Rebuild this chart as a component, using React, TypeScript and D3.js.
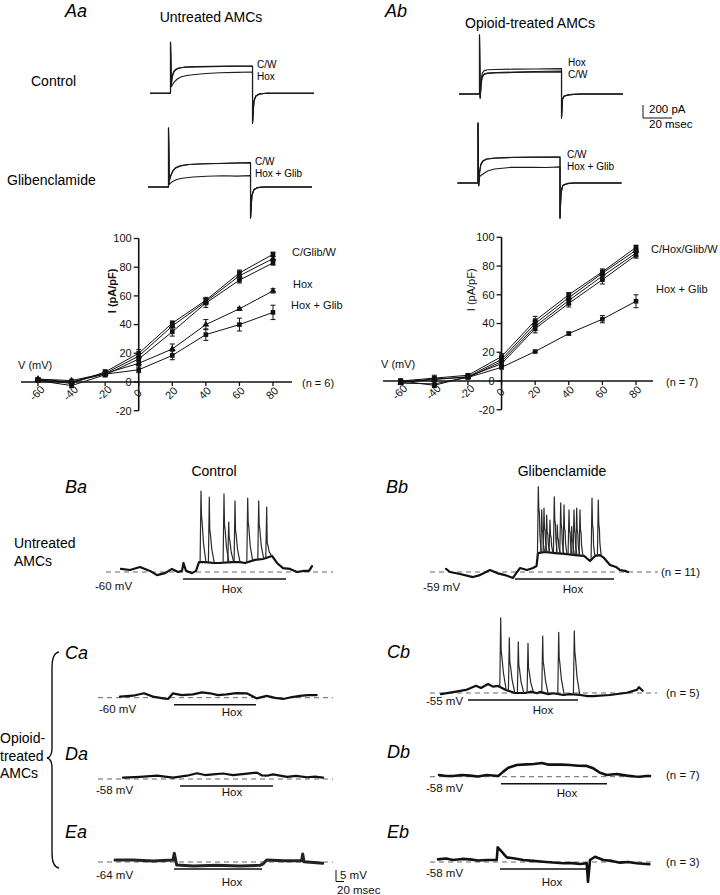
import React from "react";
import * as d3 from "d3";

const FONT = "'Liberation Sans', Arial, Helvetica, sans-serif";

// ---------------- A: I-V relations (I in pA/pF vs V in mV) ----------------
const ivVoltage = [-60, -40, -20, 0, 20, 40, 60, 80];
const ivTicksY = [-20, 0, 20, 40, 60, 80, 100];

// untreated AMCs (n = 6)
const untreatedC = [1.5, -1, 7, 20, 41, 57, 76, 89];
const untreatedCErr = [1, 1.5, 1.5, 2.5, 1.5, 2, 2, 1.5];
const untreatedGlib = [2, 0, 6, 18, 39, 56, 74, 86];
const untreatedGlibErr = [1, 1, 1.5, 2, 2, 2, 2.5, 1.5];
const untreatedW = [1, -2.5, 5, 16, 35, 55, 71, 83];
const untreatedWErr = [1, 1.5, 1.5, 2, 3, 3, 2, 1.5];
const untreatedHox = [2, 1, 6, 13, 23, 40, 51, 63.5];
const untreatedHoxErr = [1, 1, 1, 1.5, 3.5, 3.5, 1, 1.5];
const untreatedHoxGlib = [1, 0, 5.5, 8.5, 18.5, 33, 40, 48.5];
const untreatedHoxGlibErr = [1, 1, 1, 2, 3, 4, 4.5, 5];

// opioid-treated AMCs (n = 7)
const opioidC = [0, 2, 4, 17, 42, 60, 76, 93];
const opioidCErr = [1.5, 2, 1, 2, 3, 1.5, 2, 1.5];
const opioidHox = [-1, 1, 3, 15, 40, 58, 75, 91];
const opioidHoxErr = [1, 1.5, 1, 2, 2, 2, 2, 1.5];
const opioidGlib = [-1.5, -2, 2.5, 13.5, 38, 56, 73, 89];
const opioidGlibErr = [1, 1.5, 1, 2, 3, 2.5, 2.5, 2];
const opioidW = [0, -3, 3, 12, 36.5, 54, 70.5, 87.5];
const opioidWErr = [1, 1.5, 1, 2, 3, 2.5, 3, 2];
const opioidHoxGlib = [-1, 1.5, 2.5, 9.5, 20.5, 33, 43, 55.5];
const opioidHoxGlibErr = [1, 1, 1, 1, 0.5, 1, 2.5, 4.5];

// ---------------- A: whole-cell current traces ([ms, pA]) ----------------
const aaCtrlC = [[-15, 0], [0, 0], [0, 785], [0.6, 140], [1.2, 260], [2.2, 330], [3.5, 365], [6, 390], [10, 402], [18, 410], [30, 414], [45, 417], [60, 420], [60, -460], [61, -120], [62.5, -40], [65, -10], [70, 0], [105, 0]];
const aaCtrlW = [[-15, 0], [0, 0], [0, 785], [0.6, 120], [1.2, 235], [2.2, 315], [3.5, 355], [6, 385], [10, 400], [18, 406], [30, 411], [45, 418], [60, 416], [60, -460], [61, -120], [62.5, -40], [65, -10], [70, 0], [105, 0]];
const aaCtrlHox = [[-15, 0], [0, 0], [0, 785], [0.6, 100], [1.5, 135], [3, 180], [5, 220], [8, 255], [12, 275], [18, 290], [26, 305], [36, 315], [48, 322], [60, 328], [60, -460], [61, -120], [62.5, -40], [65, -10], [70, 0], [105, 0]];

const aaGlibC = [[-15, 0], [0, 0], [0, 908], [0.6, 100], [1.5, 170], [3, 245], [5, 295], [9, 330], [15, 345], [24, 355], [40, 365], [60, 375], [60, -477], [61, -130], [62.5, -40], [65, -10], [70, 0], [105, 0]];
const aaGlibW = [[-15, 0], [0, 0], [0, 908], [0.6, 90], [1.5, 160], [3, 235], [5, 290], [9, 325], [15, 345], [24, 358], [40, 362], [60, 372], [60, -477], [61, -130], [62.5, -40], [65, -10], [70, 0], [105, 0]];
const aaGlibHoxGlib = [[-15, 0], [0, 0], [0, 908], [0.6, 40], [1.5, 60], [3, 85], [6, 115], [10, 135], [18, 155], [28, 165], [40, 172], [50, 168], [60, 175], [60, -477], [61, -130], [62.5, -40], [65, -10], [70, 0], [105, 0]];

const abCtrlC = [[-15, 0], [0, 0], [0, 908], [0.5, -60], [1.2, 150], [2, 260], [3.5, 300], [6, 318], [12, 325], [25, 330], [40, 336], [60, 340], [60, -370], [60.7, -80], [62, -30], [66, -10], [75, 0], [105, 0]];
const abCtrlW = [[-15, 0], [0, 0], [0, 908], [0.5, -60], [1.2, 170], [2, 280], [3.5, 310], [6, 322], [12, 330], [25, 338], [40, 345], [60, 355], [60, -370], [60.7, -80], [62, -30], [66, -10], [75, 0], [105, 0]];
const abCtrlHox = [[-15, 0], [0, 0], [0, 908], [0.5, -60], [1.2, 200], [2, 320], [3.5, 360], [6, 372], [12, 378], [25, 383], [40, 385], [60, 390], [60, -370], [60.7, -80], [62, -30], [66, -10], [75, 0], [105, 0]];

const abGlibC = [[-15, 0], [0, 0], [0, 923], [0.5, -40], [1.2, 180], [2, 290], [3.5, 340], [6, 370], [12, 385], [25, 395], [40, 398], [60, 400], [60, -540], [60.7, -150], [62, -40], [65, -10], [70, 0], [105, 0]];
const abGlibW = [[-15, 0], [0, 0], [0, 923], [0.5, -40], [1.2, 160], [2, 270], [3.5, 330], [6, 365], [12, 380], [25, 392], [40, 396], [60, 398], [60, -540], [60.7, -150], [62, -40], [65, -10], [70, 0], [105, 0]];
const abGlibHoxGlib = [[-15, 0], [0, 0], [0, 923], [0.5, -40], [1.2, 100], [2.6, 123], [7, 185], [12, 215], [24, 240], [40, 240], [50, 238], [60, 248], [60, -540], [60.7, -150], [62, -40], [65, -10], [70, 0], [105, 0]];

// ---------------- B–E: membrane potential ([sweep time, mV above rest]) ----------------
const baEnv = [[0, 1.4], [9, 0.9], [19, 2.3], [29, 0.5], [36, -1.4], [44, -0.5], [51, 1.4], [57, 0], [61, 0.5], [62.5, 4.1], [65, 0.5], [71, -0.5], [75, 0.5], [78, 4.5], [84, 4.5], [93, 4.1], [98, 4.1], [111, 4.5], [119, 4.5], [124, 4.1], [134, 5.5], [142, 5.9], [151, 7.3], [156, 4.1], [162, 1.8], [169, 1.4], [176, 0], [183, 0.5], [188, 0.5], [191, 2.7]];
const baSpikes = [[80, 36.8, 25.5], [88.3, 34.1, 19.1], [103, 35.5, 21.4], [107.7, 22.7, 15.9], [114, 32.3, 19.1], [126.7, 33.6, 22.7], [137.7, 32.3, 21.4], [145.7, 29.5, 13.2]];

const bbEnv = [[0, 1.4], [4, 0], [14, -0.9], [27, -2.3], [34, -1.4], [44, 0.9], [51, -0.5], [59, -1.4], [67, -2.7], [71, 0], [74, 1.8], [81, 0.9], [87, 1.8], [90.5, 2.7], [92, 8.6], [99, 9.1], [109, 8.6], [119, 8.2], [129, 7.7], [138, 7.3], [144, 5], [149, 7.3], [154, 7.7], [158, 6.4], [164, 3.2], [170, 2.3], [174, 0.9], [179, 0.5], [182, 0]];
const bbSpikes = [[92.3, 38.8, 29.1], [95.7, 28.2, 19.1], [98, 29.1, 20], [100.7, 25.9, 18.2], [104, 23.6, 16.8], [108.3, 34.2, 23.6], [111.3, 21.4, 15.5], [114.7, 31.4, 21.4], [118, 30.5, 20], [123, 28.2, 19.1], [125.7, 20.6, 14.5], [128, 28.2, 19.1], [130.7, 29.1, 19.1], [134, 28.2, 19.1], [146, 33.6, 21.4], [152.3, 32.7, 21.4]];

const caEnv = [[0, 0.5], [13, 0.9], [24, 2], [33, 0.5], [43, -0.3], [48, -0.6], [53, 2], [61.7, 1.2], [73, 1.5], [82, 2.4], [90, 2], [98, 1.2], [106.7, 1.5], [116, 2.1], [126.7, 2], [136.7, -0.3], [146.7, 0.8], [155, -0.1], [163.3, -0.6], [172, 0.3], [180, 0.8], [188, 1.2], [196.7, 1.2]];

const cbEnv = [[0, -0.5], [15, 0.6], [25, 1.4], [35, 3.3], [40, 2.3], [47, 4.1], [52, 2.9], [57, 3.2], [65, 1.4], [74, 0], [84, 0], [90.7, 0.6], [95.7, -0.1], [99, 0.5], [107.3, -0.5], [112.3, -0.1], [122.3, -0.9], [129, -0.5], [139, -0.9], [147, -1.4], [152, -1.4], [169, -0.9], [186, 0.1], [195.7, 1.4], [198, 2.6], [201.7, 1]];
const cbSpikes = [[59.7, 34.2, 18.8], [68.3, 25.1, 14.2], [77.3, 23.2, 12.7], [87, 22.6, 11.4], [101.7, 25.9, 14.2], [117.7, 27.6, 15.9], [133.3, 28.2, 18.8]];

const daEnv = [[0, 0.6], [17, 1], [34, 1.5], [50, 0.6], [64, 1.5], [74, 2.6], [82, 1.8], [90, 2.1], [100, 2.5], [110, 1.8], [122, 2.3], [134, 2.9], [139, 1.6], [144, 1.5], [150, 2.1], [164, 1], [173, 1.4], [184, 0.8], [192, 1.1], [200, 0.6]];

const dbEnv = [[0, 0.8], [7, 0.3], [14, 0.3], [23, 0.8], [31, 0.5], [39, 0.1], [47.7, 0.8], [59.3, 0.3], [64.3, 2.3], [69.3, 4.1], [77.7, 5.3], [87.7, 5.6], [95, 5.8], [102.7, 6.2], [109, 5.5], [114.3, 5.5], [123, 5.5], [131, 5.3], [139, 5], [147.7, 4.9], [154.3, 3.8], [161, 1.8], [167.7, 0.8], [177.7, 1.2], [187.7, 0.5], [196, 0.1], [201, 0], [207, 0.3], [211, 0.3]];

const eaEnv = [[0, 0.9], [18, 0.9], [38, 0.5], [58, 0.9], [59.3, 4], [61.7, -1.4], [78.3, -1.8], [101.7, -1.5], [125, -1.8], [145, -1.5], [148, -0.9], [151.7, 0.9], [168.3, 0.6], [186.7, 0.6], [187.7, 3.6], [189, 0.1], [207.7, -0.6]];

const ebEnv = [[0, 1.2], [8, 1.6], [15, 0.9], [24, 1.4], [32, 1.2], [40, 0.7], [48.7, 0.9], [58.7, 0.9], [59.7, 6.7], [63.7, 4.7], [68.7, 2.1], [75.3, 1.7], [85.3, 0.9], [95, 0.5], [105.3, 0.1], [115, -0.2], [125.3, -0.6], [134, -0.5], [142, -0.9], [148.7, -0.6], [150, -9], [152, 0.9], [157, 2.4], [165.3, 0.9], [174, 0.5], [182, -0.3], [190, 0], [198.7, -0.6], [211.3, -1]];

// ---------------- drawing constants ----------------
const MS_PX = 1.367; // current traces, px per ms
const PA_PX = 0.065; // px per pA
const MV_PX = 2.2; // px per mV

function CurrentTrace({ stepX, baseY, traces }) {
  const x = d3.scaleLinear().domain([0, 60]).range([stepX, stepX + 60 * MS_PX]);
  const y = d3.scaleLinear().domain([0, 200]).range([baseY, baseY - 200 * PA_PX]);
  const line = d3.line().x(d => x(d[0])).y(d => y(d[1]));
  return (
    <g>
      {traces.map((tr, i) => (
        <path key={i} d={line(tr)} fill="none" stroke="#1a1a1a" strokeWidth={1.1} strokeLinejoin="round" />
      ))}
    </g>
  );
}

function Marker({ type, cx, cy }) {
  if (type === "square") return <rect x={cx - 2.3} y={cy - 2.3} width={4.6} height={4.6} fill="#111" />;
  if (type === "triangle") return <path d={d3.symbol(d3.symbolTriangle, 20)()} transform={`translate(${cx},${cy})`} fill="#111" />;
  return <circle cx={cx} cy={cy} r={2.1} fill="#111" />;
}

function IVPanel({ xRange, yRange, axisLeft, axisRight, series, boldLabel, labelX, nText, nX, vLabelX }) {
  const x = d3.scaleLinear().domain([-60, 80]).range(xRange);
  const y = d3.scaleLinear().domain([0, 100]).range(yRange);
  const line = d3.line().x((d, i) => x(ivVoltage[i])).y(d => y(d));
  const ax = x(0);
  const y0 = y(0);
  return (
    <g fontFamily={FONT} fill="#111">
      {series.map((s, si) => (
        <g key={si}>
          <path d={line(s.values)} fill="none" stroke="#111" strokeWidth={1} />
          {s.values.map((v, i) => {
            const cx = x(ivVoltage[i]);
            const e = s.err[i];
            return (
              <g key={i}>
                <line x1={cx} x2={cx} y1={y(v - e)} y2={y(v + e)} stroke="#111" strokeWidth={1} />
                <line x1={cx - 2.5} x2={cx + 2.5} y1={y(v - e)} y2={y(v - e)} stroke="#111" strokeWidth={1} />
                <line x1={cx - 2.5} x2={cx + 2.5} y1={y(v + e)} y2={y(v + e)} stroke="#111" strokeWidth={1} />
                <Marker type={s.marker} cx={cx} cy={y(v)} />
              </g>
            );
          })}
        </g>
      ))}
      <line x1={axisLeft} x2={axisRight} y1={y0} y2={y0} stroke="#111" strokeWidth={1.6} />
      <line x1={ax} x2={ax} y1={y(-20)} y2={y(100)} stroke="#111" strokeWidth={1.6} />
      {ivTicksY.map(t => (
        <g key={t}>
          <line x1={ax - 5} x2={ax} y1={y(t)} y2={y(t)} stroke="#111" strokeWidth={1.3} />
          <text x={ax - 7} y={y(t)} dy="0.35em" textAnchor="end" fontSize={11}>{t}</text>
        </g>
      ))}
      {ivVoltage.map(v => (
        <g key={v}>
          <line x1={x(v)} x2={x(v)} y1={y0} y2={y0 + 4} stroke="#111" strokeWidth={1.3} />
          <text transform={`translate(${x(v) - 1},${y0 + 11}) rotate(-45)`} textAnchor="middle" dy="0.35em" fontSize={11}>{v}</text>
        </g>
      ))}
      <text transform={`translate(${labelX},${(y(100) + y(20)) / 2 - 5}) rotate(-90)`} textAnchor="middle" fontSize={11} fontWeight={boldLabel ? "bold" : "normal"}>I (pA/pF)</text>
      <text x={vLabelX} y={y0 - 13} fontSize={11}>V (mV)</text>
      <text x={nX} y={y0 + 5} fontSize={11}>{nText}</text>
    </g>
  );
}

function VoltageTrace({ x0, restY, env, spikes = [], spikeWidth = 2.5, dash, hox, envWidth = 2.2, envColor = "#111" }) {
  const x = d3.scaleLinear().domain([0, 100]).range([x0, x0 + 100]);
  const y = d3.scaleLinear().domain([0, 10]).range([restY, restY - 10 * MV_PX]);
  const envAt = d3.scaleLinear().domain(env.map(d => d[0])).range(env.map(d => d[1])).clamp(true);
  const line = d3.line().x(d => x(d[0])).y(d => y(d[1]));
  const hoxY = restY + 7;
  return (
    <g>
      <line x1={x(dash[0])} x2={x(dash[1])} y1={restY} y2={restY} stroke="#666" strokeWidth={1} strokeDasharray="5 4" />
      <path d={line(env)} fill="none" stroke={envColor} strokeWidth={envWidth} strokeLinejoin="round" strokeLinecap="round" />
      {spikes.map(([t, peak, sh], i) => {
        const b = envAt(t);
        const pts = [
          [t - 0.9, envAt(t - 0.9)],
          [t, peak],
          [t + 0.5, sh],
          [t + 1.1, sh - (sh - b) * 0.12],
          [t + 0.5 + 0.45 * spikeWidth, b + (sh - b) * 0.4],
          [t + 0.5 + spikeWidth, envAt(t + 0.5 + spikeWidth)],
        ];
        return <path key={i} d={line(pts)} fill="none" stroke="#2a2a2a" strokeWidth={1.2} strokeLinejoin="round" />;
      })}
      <line x1={x(hox[0])} x2={x(hox[1])} y1={hoxY} y2={hoxY} stroke="#111" strokeWidth={1.5} />
    </g>
  );
}

export default function App() {
  const untreatedSeries = [
    { values: untreatedC, err: untreatedCErr, marker: "square" },
    { values: untreatedGlib, err: untreatedGlibErr, marker: "triangle" },
    { values: untreatedW, err: untreatedWErr, marker: "square" },
    { values: untreatedHox, err: untreatedHoxErr, marker: "triangle" },
    { values: untreatedHoxGlib, err: untreatedHoxGlibErr, marker: "square" },
  ];
  const opioidSeries = [
    { values: opioidC, err: opioidCErr, marker: "square" },
    { values: opioidHox, err: opioidHoxErr, marker: "triangle" },
    { values: opioidGlib, err: opioidGlibErr, marker: "circle" },
    { values: opioidW, err: opioidWErr, marker: "square" },
    { values: opioidHoxGlib, err: opioidHoxGlibErr, marker: "square" },
  ];

  const panel = { fontFamily: FONT, fontStyle: "italic", fontSize: 18 };
  const t14 = { fontFamily: FONT, fontSize: 14 };
  const t11 = { fontFamily: FONT, fontSize: 11.5 };
  const t10 = { fontFamily: FONT, fontSize: 10 };

  return (
    <div style={{ position: "absolute", left: 0, top: 0 }}>
      <svg width={720} height={895} style={{ display: "block", background: "#fff" }}>
        {/* ---- A headers ---- */}
        <text x={65} y={17} style={panel}>Aa</text>
        <text x={385} y={17} style={panel}>Ab</text>
        <text x={211} y={22} textAnchor="middle" style={t14}>Untreated AMCs</text>
        <text x={530} y={28} textAnchor="middle" style={t14}>Opioid-treated AMCs</text>
        <text x={31} y={86} style={t14}>Control</text>
        <text x={7} y={185} style={t14}>Glibenclamide</text>

        {/* ---- current traces ---- */}
        <CurrentTrace stepX={170.5} baseY={93.3} traces={[aaCtrlHox, aaCtrlW, aaCtrlC]} />
        <CurrentTrace stepX={168.5} baseY={187} traces={[aaGlibHoxGlib, aaGlibW, aaGlibC]} />
        <CurrentTrace stepX={479.5} baseY={94} traces={[abCtrlC, abCtrlW, abCtrlHox]} />
        <CurrentTrace stepX={478} baseY={183} traces={[abGlibHoxGlib, abGlibW, abGlibC]} />
        <g style={t10}>
          <text x={257} y={68}>C/W</text>
          <text x={257} y={80}>Hox</text>
          <text x={255} y={165}>C/W</text>
          <text x={255} y={177}>Hox + Glib</text>
          <text x={568} y={66}>Hox</text>
          <text x={568} y={78}>C/W</text>
          <text x={567} y={158}>C/W</text>
          <text x={567} y={170}>Hox + Glib</text>
        </g>
        <g style={t11}>
          <text x={649} y={113}>200 pA</text>
          <text x={649} y={128}>20 msec</text>
        </g>
        <path d="M643,105 V118 H672" fill="none" stroke="#111" strokeWidth={1} />

        {/* ---- I-V plots ---- */}
        <IVPanel xRange={[38, 273]} yRange={[382, 238.5]} axisLeft={21} axisRight={292} series={untreatedSeries}
          boldLabel labelX={116} nText="(n = 6)" nX={302} vLabelX={18} />
        <IVPanel xRange={[400.7, 636]} yRange={[381, 237.3]} axisLeft={383} axisRight={653} series={opioidSeries}
          boldLabel={false} labelX={475} nText="(n = 7)" nX={666} vLabelX={381} />
        <g fontFamily={FONT} fontSize={11} fill="#111">
          <text x={292} y={256}>C/Glib/W</text>
          <text x={293} y={288}>Hox</text>
          <text x={291} y={309}>Hox + Glib</text>
          <text x={651} y={253}>C/Hox/Glib/W</text>
          <text x={656} y={293}>Hox + Glib</text>
        </g>

        {/* ---- B headers ---- */}
        <text x={214} y={476} textAnchor="middle" style={t14}>Control</text>
        <text x={562} y={476} textAnchor="middle" style={t14}>Glibenclamide</text>
        <text x={65} y={493} style={panel}>Ba</text>
        <text x={386} y={493} style={panel}>Bb</text>
        <text x={14} y={548} style={t14}>Untreated</text>
        <text x={14} y={566} style={t14}>AMCs</text>

        <text x={65} y={659} style={panel}>Ca</text>
        <text x={65} y={760} style={panel}>Da</text>
        <text x={65} y={838} style={panel}>Ea</text>
        <text x={387} y={658} style={panel}>Cb</text>
        <text x={387} y={758} style={panel}>Db</text>
        <text x={387} y={838} style={panel}>Eb</text>

        <text x={0} y={743} style={t14}>Opioid-</text>
        <text x={0} y={761} style={t14}>treated</text>
        <text x={0} y={778} style={t14}>AMCs</text>
        <path d="M59,652 Q52,653 52,668 L52,748 Q52,757 47,758 Q52,759 52,768 L52,853 Q52,867 59,868"
          fill="none" stroke="#111" strokeWidth={1.4} />

        {/* ---- membrane potential traces ---- */}
        <VoltageTrace x0={121} restY={572} env={baEnv} spikes={baSpikes} spikeWidth={4.5} dash={[-15, 212]} hox={[62, 165]} />
        <VoltageTrace x0={446} restY={572} env={bbEnv} spikes={bbSpikes} spikeWidth={2.4} dash={[-16, 212]} hox={[69, 168]} />
        <VoltageTrace x0={120} restY={697.7} env={caEnv} dash={[-22, 213]} hox={[54, 136]} />
        <VoltageTrace x0={441} restY={693} env={cbEnv} spikes={cbSpikes} spikeWidth={5} dash={[-11, 216]} hox={[27, 137]} />
        <VoltageTrace x0={123} restY={779} env={daEnv} dash={[-25, 210]} hox={[57, 150]} />
        <VoltageTrace x0={439} restY={776.7} env={dbEnv} dash={[-9, 216]} hox={[62, 168]} envWidth={2.6} />
        <VoltageTrace x0={115} restY={862} env={eaEnv} dash={[-17, 218]} hox={[59, 147]} envWidth={3} envColor="#222" />
        <VoltageTrace x0={438} restY={862} env={ebEnv} dash={[-8, 217]} hox={[62, 150]} envWidth={2.6} />

        <g style={t11} fill="#111">
          <text x={95} y={590}>-60 mV</text>
          <text x={232} y={593} textAnchor="middle">Hox</text>
          <text x={423} y={591}>-59 mV</text>
          <text x={573} y={593} textAnchor="middle">Hox</text>
          <text x={661} y={576}>(n = 11)</text>

          <text x={99} y={713}>-60 mV</text>
          <text x={232} y={716} textAnchor="middle">Hox</text>
          <text x={426} y={705}>-55 mV</text>
          <text x={543} y={714} textAnchor="middle">Hox</text>
          <text x={666} y={697}>(n = 5)</text>

          <text x={96} y={794}>-58 mV</text>
          <text x={232} y={796} textAnchor="middle">Hox</text>
          <text x={426} y={792}>-58 mV</text>
          <text x={567} y={797} textAnchor="middle">Hox</text>
          <text x={666} y={779}>(n = 7)</text>

          <text x={96} y={879}>-64 mV</text>
          <text x={232} y={886} textAnchor="middle">Hox</text>
          <text x={426} y={877}>-58 mV</text>
          <text x={552} y={886} textAnchor="middle">Hox</text>
          <text x={666} y={866}>(n = 3)</text>

          <text x={340} y={879}>5 mV</text>
          <text x={337} y={894}>20 msec</text>
        </g>
        <path d="M336,870 V881.5 H344" fill="none" stroke="#111" strokeWidth={1} />
      </svg>
    </div>
  );
}
